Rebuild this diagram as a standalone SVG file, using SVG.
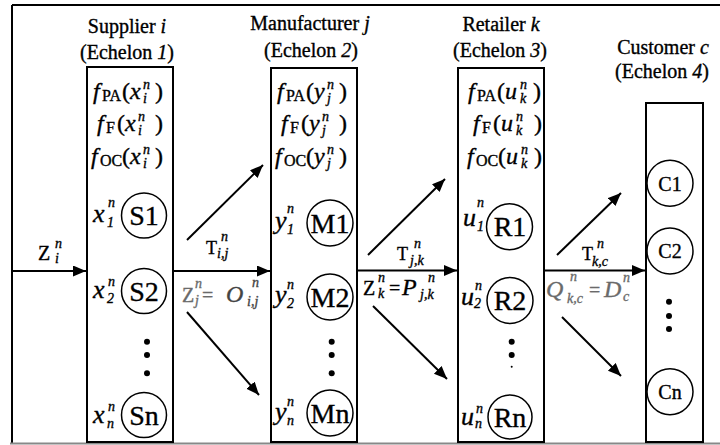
<svg xmlns="http://www.w3.org/2000/svg" width="720" height="445" viewBox="0 0 720 445" font-family="'Liberation Serif', 'DejaVu Serif', serif">
<style>
text, tspan { font-family: 'Liberation Serif', 'DejaVu Serif', serif; fill: #000; stroke: #000; stroke-width: 0.35px; }
.it { font-style: italic; }
.title { font-size: 20px; text-anchor: middle; }
.fn { font-size: 24px; }
.fs { font-size: 16px; }
.sm { font-size: 14px; font-style: italic; }
.var { font-size: 26px; font-style: italic; }
.node { font-size: 28px; text-anchor: middle; }
.cnode { font-size: 20px; text-anchor: middle; }
.lab { font-size: 20px; }
.tl { font-size: 18px; }
.grey { fill: #6a6a6a; stroke: #6a6a6a; }
.dk { fill: #444; stroke: #444; }
.box { fill: none; stroke: #000; stroke-width: 2; }
.circ { fill: none; stroke: #000; stroke-width: 1.5; }
.dot { fill: #000; }
.arrow { stroke: #000; stroke-width: 2; fill: none; marker-end: url(#ah); }
.frame { stroke: #000; stroke-width: 2; fill: none; }
</style>
<defs>
<marker id="ah" markerUnits="userSpaceOnUse" markerWidth="14" markerHeight="12" refX="13" refY="5.5" orient="auto">
<path d="M0,0 L13,5.5 L0,11 z" fill="#000"/>
</marker>
</defs>
<rect width="720" height="445" fill="#fff"/>
<g id="frame">
<line class="frame" x1="12" y1="5" x2="720" y2="5"/>
<line class="frame" x1="12" y1="5" x2="12" y2="443"/>
<line x1="10" y1="443.5" x2="720" y2="443.5" stroke="#888" stroke-width="2"/>
</g>

<g id="supplier">
<text class="title" x="127" y="33">Supplier <tspan class="it">i</tspan></text>
<text class="title" x="127" y="59">(Echelon <tspan class="it">1</tspan>)</text>
<rect class="box" x="87" y="67" width="86" height="375"/>
<g transform="translate(93,99)">
<text class="fn it" x="0" y="0">f</text><text class="fs" x="9" y="2">PA</text><text class="fn" x="29" y="0">(</text><text class="fn it" x="37" y="0">x</text><text class="sm" x="50" y="-10">n</text><text class="sm" x="50" y="4">i</text><text class="fn" x="62" y="0">)</text>
</g>
<g transform="translate(97,131)">
<text class="fn it" x="0" y="0">f</text><text class="fs" x="9" y="2">F</text><text class="fn" x="20" y="0">(</text><text class="fn it" x="28" y="0">x</text><text class="sm" x="41" y="-10">n</text><text class="sm" x="41" y="4">i</text><text class="fn" x="58" y="0">)</text>
</g>
<g transform="translate(91,164)">
<text class="fn it" x="0" y="0">f</text><text class="fs" x="9" y="2">OC</text><text class="fn" x="31" y="0">(</text><text class="fn it" x="39" y="0">x</text><text class="sm" x="52" y="-10">n</text><text class="sm" x="52" y="4">i</text><text class="fn" x="64" y="0">)</text>
</g>
<circle class="circ" cx="144" cy="215.5" r="22.5"/>
<text class="node" x="144" y="225">S1</text>
<circle class="circ" cx="144" cy="291" r="22.5"/>
<text class="node" x="144" y="300.5">S2</text>
<circle class="circ" cx="144" cy="415" r="22.5"/>
<text class="node" x="144" y="424.5">Sn</text>
<text class="var" x="93" y="222">x</text><text class="sm" x="108" y="207">n</text><text class="sm" x="107" y="227">1</text>
<text class="var" x="93" y="298">x</text><text class="sm" x="108" y="286">n</text><text class="sm" x="107" y="303">2</text>
<text class="var" x="93" y="423">x</text><text class="sm" x="108" y="411">n</text><text class="sm" x="107" y="428">n</text>
<circle class="dot" cx="147" cy="341.7" r="3"/>
<circle class="dot" cx="147" cy="355" r="3"/>
<circle class="dot" cx="147" cy="373.3" r="3"/>
</g>

<g id="manufacturer">
<text class="title" x="310" y="30">Manufacturer <tspan class="it">j</tspan></text>
<text class="title" x="311" y="57">(Echelon <tspan class="it">2</tspan>)</text>
<rect class="box" x="271" y="68" width="86" height="374"/>
<g transform="translate(277,99)">
<text class="fn it" x="0" y="0">f</text><text class="fs" x="9" y="2">PA</text><text class="fn" x="29" y="0">(</text><text class="fn it" x="37" y="0">y</text><text class="sm" x="50" y="-10">n</text><text class="sm" x="50" y="4">j</text><text class="fn" x="62" y="0">)</text>
</g>
<g transform="translate(281,131)">
<text class="fn it" x="0" y="0">f</text><text class="fs" x="9" y="2">F</text><text class="fn" x="20" y="0">(</text><text class="fn it" x="28" y="0">y</text><text class="sm" x="41" y="-10">n</text><text class="sm" x="41" y="4">j</text><text class="fn" x="58" y="0">)</text>
</g>
<g transform="translate(275,164)">
<text class="fn it" x="0" y="0">f</text><text class="fs" x="9" y="2">OC</text><text class="fn" x="31" y="0">(</text><text class="fn it" x="39" y="0">y</text><text class="sm" x="52" y="-10">n</text><text class="sm" x="52" y="4">j</text><text class="fn" x="64" y="0">)</text>
</g>
<circle class="circ" cx="330" cy="223" r="23"/>
<text class="node" x="330" y="232.5">M1</text>
<circle class="circ" cx="330" cy="297" r="23"/>
<text class="node" x="330" y="306.5">M2</text>
<circle class="circ" cx="330" cy="413" r="23"/>
<text class="node" x="330" y="422.5">Mn</text>
<text class="var" x="275" y="229">y</text><text class="sm" x="287" y="213">n</text><text class="sm" x="287" y="234">1</text>
<text class="var" x="275" y="303">y</text><text class="sm" x="287" y="289">n</text><text class="sm" x="287" y="308">2</text>
<text class="var" x="275" y="420">y</text><text class="sm" x="287" y="406">n</text><text class="sm" x="287" y="425">n</text>
<circle class="dot" cx="331.7" cy="341.7" r="3"/>
<circle class="dot" cx="331.7" cy="355" r="3"/>
<circle class="dot" cx="331.7" cy="373.3" r="3"/>
</g>

<g id="retailer">
<text class="title" x="501" y="31">Retailer <tspan class="it">k</tspan></text>
<text class="title" x="500" y="57">(Echelon <tspan class="it">3</tspan>)</text>
<rect class="box" x="458" y="68" width="86" height="374"/>
<g transform="translate(468,99)">
<text class="fn it" x="0" y="0">f</text><text class="fs" x="9" y="2">PA</text><text class="fn" x="29" y="0">(</text><text class="fn it" x="37" y="0">u</text><text class="sm" x="52" y="-10">n</text><text class="sm" x="52" y="4">k</text><text class="fn" x="65" y="0">)</text>
</g>
<g transform="translate(473,131)">
<text class="fn it" x="0" y="0">f</text><text class="fs" x="9" y="2">F</text><text class="fn" x="20" y="0">(</text><text class="fn it" x="28" y="0">u</text><text class="sm" x="43" y="-10">n</text><text class="sm" x="43" y="4">k</text><text class="fn" x="61" y="0">)</text>
</g>
<g transform="translate(467,164)">
<text class="fn it" x="0" y="0">f</text><text class="fs" x="9" y="2">OC</text><text class="fn" x="31" y="0">(</text><text class="fn it" x="39" y="0">u</text><text class="sm" x="54" y="-10">n</text><text class="sm" x="54" y="4">k</text><text class="fn" x="67" y="0">)</text>
</g>
<circle class="circ" cx="509.5" cy="226.7" r="23"/>
<text class="node" x="510" y="236">R1</text>
<circle class="circ" cx="510" cy="300.5" r="23"/>
<text class="node" x="510" y="310">R2</text>
<circle class="circ" cx="510" cy="417" r="22"/>
<text class="node" x="510" y="426.5">Rn</text>
<text class="var" x="463" y="226">u</text><text class="sm" x="477" y="207">n</text><text class="sm" x="477" y="231">1</text>
<text class="var" x="461" y="305">u</text><text class="sm" x="475" y="290">n</text><text class="sm" x="474" y="308">2</text>
<text class="var" x="461" y="425">u</text><text class="sm" x="476" y="413">n</text><text class="sm" x="475" y="428">n</text>
<circle class="dot" cx="511.7" cy="341.7" r="3"/>
<circle class="dot" cx="511.7" cy="355" r="3"/>
<circle class="dot" cx="511.7" cy="366.7" r="1"/>
</g>

<g id="customer">
<text class="title" x="663" y="54">Customer <tspan class="it">c</tspan></text>
<text class="title" x="662" y="78">(Echelon <tspan class="it">4</tspan>)</text>
<rect class="box" x="646" y="103" width="57" height="339"/>
<circle class="circ" cx="670" cy="183.3" r="23"/>
<text class="cnode" x="670" y="190.5">C1</text>
<circle class="circ" cx="670" cy="251" r="23"/>
<text class="cnode" x="670" y="258">C2</text>
<circle class="circ" cx="670" cy="391.7" r="23"/>
<text class="cnode" x="670" y="399">Cn</text>
<circle class="dot" cx="669" cy="301.7" r="3"/>
<circle class="dot" cx="669" cy="316" r="3"/>
<circle class="dot" cx="669" cy="329" r="3"/>
</g>

<g id="connectors">
<line class="arrow" x1="12" y1="271" x2="86" y2="271"/>
<line class="arrow" x1="173" y1="271" x2="270" y2="271"/>
<line class="arrow" x1="187" y1="240" x2="263" y2="165"/>
<line class="arrow" x1="187" y1="312" x2="259" y2="395"/>
<line class="arrow" x1="357" y1="270.5" x2="457" y2="270.5"/>
<line class="arrow" x1="368" y1="255" x2="445" y2="179"/>
<line class="arrow" x1="373" y1="306" x2="447" y2="379"/>
<line class="arrow" x1="544" y1="270.5" x2="645" y2="270.5"/>
<line class="arrow" x1="557" y1="255" x2="621" y2="193"/>
<line class="arrow" x1="562" y1="317" x2="621" y2="376"/>
</g>

<g id="labels">
<text class="lab" x="38" y="260">Z</text><text class="sm" x="55" y="248">n</text><text class="sm" x="55" y="263">i</text>
<text class="tl" x="206" y="254">T</text><text class="sm" x="221" y="241">n</text><text class="sm" x="217" y="258">i,j</text>
<text class="lab grey" x="182" y="302">Z</text><text class="sm grey" x="195" y="288">n</text><text class="sm grey" x="195" y="305">j</text><text class="lab grey" x="202" y="302">=</text>
<text class="fn it dk" x="226" y="302">O</text><text class="sm dk" x="252" y="287">n</text><text class="sm dk" x="247" y="306">i,j</text>
<text class="tl" x="397" y="260">T</text><text class="sm" x="414" y="248">n</text><text class="sm" x="410" y="265">j,k</text>
<text class="lab" x="363" y="295">Z</text><text class="sm" x="378" y="282">n</text><text class="sm" x="378" y="298">k</text><text class="lab" x="389" y="295">=</text>
<text class="fn it" x="402" y="295">P</text><text class="sm" x="428" y="282">n</text><text class="sm" x="420" y="299">j,k</text>
<text class="tl" x="582" y="260">T</text><text class="sm" x="597" y="248">n</text><text class="sm" x="592" y="266">k,c</text>
<text class="fn it grey" x="546" y="297">Q</text><text class="sm grey" x="570" y="281">n</text><text class="sm grey" x="567" y="303">k,c</text><text class="lab grey" x="589" y="297">=</text>
<text class="fn it grey" x="604" y="297">D</text><text class="sm grey" x="623" y="282">n</text><text class="sm grey" x="623" y="301">c</text>
</g>
</svg>
